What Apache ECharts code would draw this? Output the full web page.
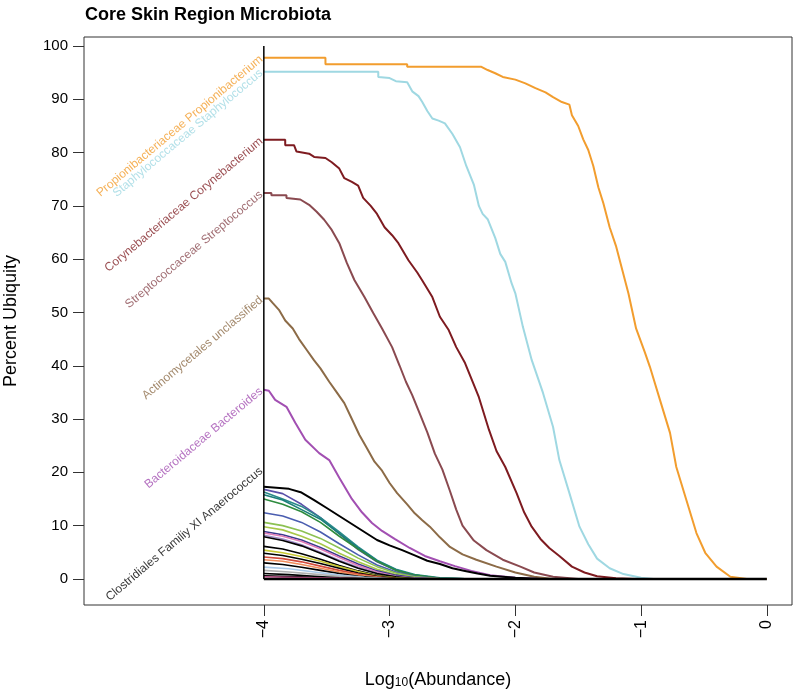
<!DOCTYPE html>
<html>
<head>
<meta charset="utf-8">
<script src="https://cdn.jsdelivr.net/npm/echarts@6/dist/echarts.min.js"></script>
<style>
  html, body { margin: 0; padding: 0; background: #fff; }
  #chart { width: 797px; height: 691px; }
</style>
</head>
<body>
<div id="chart"></div>
<script>
const FONT = '"Liberation Sans", Arial, Helvetica, sans-serif'

// tick positions
const xTicks = [-4, -3, -2, -1, 0]
const yTicks = [0, 10, 20, 30, 40, 50, 60, 70, 80, 90, 100]

// labelled taxa: [log10 abundance, percent ubiquity]
const propionibacterium = [[-4,97.8],[-3.51,97.8],[-3.51,96.6],[-2.86,96.6],[-2.86,96.1],[-2.27,96.1],[-2.22,95.5],[-2.16,94.9],[-2.10,94.2],[-2.00,93.7],[-1.92,93.0],[-1.84,92.1],[-1.76,91.3],[-1.70,90.4],[-1.63,89.5],[-1.57,89.0],[-1.55,87.0],[-1.50,85.0],[-1.46,82.5],[-1.42,80.5],[-1.38,77.5],[-1.34,73.5],[-1.30,70.5],[-1.25,66.0],[-1.20,62.5],[-1.15,58.0],[-1.10,53.5],[-1.04,47.0],[-0.97,42.5],[-0.93,39.8],[-0.85,33.6],[-0.77,27.4],[-0.72,21.0],[-0.64,14.8],[-0.56,8.6],[-0.49,4.9],[-0.40,2.3],[-0.29,0.4],[-0.16,0],[0,0]]
const staphylococcus = [[-4,95.2],[-3.09,95.2],[-3.09,94.2],[-3.00,94.0],[-2.95,93.4],[-2.86,93.2],[-2.82,91.5],[-2.77,90.6],[-2.74,89.5],[-2.70,87.8],[-2.66,86.4],[-2.61,86.0],[-2.56,85.5],[-2.50,83.5],[-2.44,81.0],[-2.39,77.5],[-2.33,74.0],[-2.29,70.0],[-2.26,68.5],[-2.22,67.5],[-2.16,64.0],[-2.12,61.0],[-2.08,59.5],[-2.03,55.5],[-2.00,53.6],[-1.94,47.3],[-1.87,41.1],[-1.78,34.9],[-1.70,28.5],[-1.65,22.3],[-1.57,16.1],[-1.49,9.8],[-1.42,6.5],[-1.35,3.8],[-1.25,2.0],[-1.14,0.9],[-1.00,0.2],[-0.90,0]]
const corynebacterium = [[-4,82.4],[-3.83,82.4],[-3.83,81.4],[-3.76,81.4],[-3.74,80.2],[-3.64,79.8],[-3.60,79.2],[-3.51,79.0],[-3.46,78.2],[-3.40,77.0],[-3.36,75.2],[-3.30,74.5],[-3.25,73.8],[-3.21,71.5],[-3.15,70.0],[-3.10,68.5],[-3.04,66.0],[-2.98,64.5],[-2.93,63.0],[-2.85,59.8],[-2.78,57.5],[-2.74,56.0],[-2.66,52.9],[-2.60,49.2],[-2.53,46.7],[-2.47,43.5],[-2.40,40.5],[-2.34,37.0],[-2.29,34.1],[-2.21,28.0],[-2.15,24.0],[-2.08,21.0],[-1.99,16.1],[-1.93,12.5],[-1.87,9.8],[-1.80,7.5],[-1.73,5.8],[-1.65,4.3],[-1.55,2.3],[-1.45,1.2],[-1.35,0.5],[-1.20,0.1],[-1.05,0]]
const streptococcus = [[-4,72.4],[-3.94,72.4],[-3.94,72.0],[-3.82,72.0],[-3.82,71.5],[-3.71,71.2],[-3.64,70.2],[-3.58,68.9],[-3.52,67.4],[-3.46,65.5],[-3.40,63.0],[-3.34,59.3],[-3.28,56.1],[-3.20,52.9],[-3.13,49.9],[-3.06,47.0],[-2.98,43.5],[-2.92,40.0],[-2.87,37.0],[-2.82,34.5],[-2.76,31.0],[-2.70,27.5],[-2.64,23.5],[-2.58,20.5],[-2.52,16.5],[-2.47,13.0],[-2.42,10.0],[-2.33,7.2],[-2.23,5.4],[-2.10,3.6],[-1.96,2.3],[-1.85,1.2],[-1.70,0.4],[-1.50,0]]
const actinomycetales = [[-4,52.6],[-3.96,52.6],[-3.93,51.8],[-3.88,50.5],[-3.83,48.5],[-3.77,47.0],[-3.72,45.0],[-3.66,43.0],[-3.60,41.0],[-3.55,39.5],[-3.48,37.0],[-3.42,35.0],[-3.36,33.0],[-3.30,30.0],[-3.24,27.0],[-3.18,24.5],[-3.12,22.0],[-3.06,20.3],[-3.00,18.0],[-2.94,16.1],[-2.86,14.0],[-2.80,12.3],[-2.74,11.0],[-2.68,9.8],[-2.60,7.8],[-2.52,6.0],[-2.42,4.6],[-2.31,3.6],[-2.15,2.3],[-2.00,1.2],[-1.85,0.4],[-1.70,0]]
const bacteroides = [[-4,35.5],[-3.96,35.3],[-3.91,33.6],[-3.82,32.3],[-3.75,29.3],[-3.67,26.1],[-3.56,23.6],[-3.48,22.3],[-3.40,19.0],[-3.30,15.0],[-3.22,12.5],[-3.14,10.5],[-3.06,9.0],[-2.96,7.5],[-2.84,5.8],[-2.72,4.3],[-2.60,3.3],[-2.48,2.4],[-2.35,1.5],[-2.20,0.7],[-2.00,0.2],[-1.80,0]]
const anaerococcus = [[-4,17.3],[-3.80,16.9],[-3.70,16.2],[-3.60,14.8],[-3.50,13.3],[-3.40,11.8],[-3.30,10.3],[-3.20,8.8],[-3.10,7.3],[-3.00,6.3],[-2.90,5.4],[-2.80,4.4],[-2.70,3.4],[-2.60,2.8],[-2.50,2.0],[-2.40,1.5],[-2.30,1.0],[-2.20,0.6],[-2.00,0.2],[-1.80,0]]

// unlabelled low-ubiquity taxa
const m01 = [[-4,16.8],[-3.85,16.0],[-3.7,14.0],[-3.55,11.5],[-3.4,8.5],[-3.25,5.5],[-3.1,3.2],[-2.95,1.6],[-2.8,0.6],[-2.6,0.1],[-2.4,0]]
const m02 = [[-4,16.3],[-3.85,15.0],[-3.7,13.6],[-3.55,11.5],[-3.4,8.8],[-3.25,6.0],[-3.1,3.5],[-2.95,1.8],[-2.8,0.8],[-2.6,0.2],[-2.4,0]]
const m03 = [[-4,15.8],[-3.85,14.8],[-3.7,13.0],[-3.55,11.2],[-3.4,8.5],[-3.25,5.8],[-3.1,3.4],[-2.95,1.7],[-2.8,0.7],[-2.6,0.1],[-2.4,0]]
const m04 = [[-4,15.0],[-3.85,14.0],[-3.7,12.6],[-3.55,10.6],[-3.4,8.0],[-3.25,5.6],[-3.1,3.3],[-2.95,1.6],[-2.8,0.7],[-2.6,0.1],[-2.4,0]]
const m05 = [[-4,12.4],[-3.85,11.8],[-3.7,10.6],[-3.55,8.8],[-3.4,6.6],[-3.25,4.5],[-3.1,2.6],[-2.95,1.3],[-2.8,0.5],[-2.6,0]]
const m06 = [[-4,10.6],[-3.85,10.0],[-3.7,9.0],[-3.55,7.6],[-3.4,5.8],[-3.25,3.9],[-3.1,2.3],[-2.95,1.1],[-2.8,0.4],[-2.6,0]]
const m07 = [[-4,9.8],[-3.85,9.2],[-3.7,8.0],[-3.55,6.6],[-3.4,4.8],[-3.25,3.2],[-3.1,1.8],[-2.95,0.8],[-2.8,0.3],[-2.6,0]]
const m08 = [[-4,8.9],[-3.85,8.3],[-3.7,7.3],[-3.55,5.9],[-3.4,4.3],[-3.25,2.8],[-3.1,1.5],[-2.95,0.7],[-2.8,0.2],[-2.6,0]]
const m09 = [[-4,8.6],[-3.85,8.0],[-3.7,7.0],[-3.55,5.6],[-3.4,4.0],[-3.25,2.5],[-3.1,1.3],[-2.95,0.5],[-2.8,0.1],[-2.6,0]]
const m10 = [[-4,8.2],[-3.85,7.5],[-3.7,6.4],[-3.55,5.0],[-3.4,3.5],[-3.25,2.2],[-3.1,1.1],[-2.95,0.4],[-2.8,0]]
const m11 = [[-4,7.9],[-3.85,7.2],[-3.7,6.2],[-3.55,4.8],[-3.4,3.3],[-3.25,2.0],[-3.1,1.0],[-2.95,0.4],[-2.8,0]]
const m12 = [[-4,6.1],[-3.85,5.6],[-3.7,4.7],[-3.55,3.7],[-3.4,2.5],[-3.25,1.5],[-3.1,0.7],[-2.95,0.2],[-2.8,0]]
const m13 = [[-4,5.4],[-3.85,4.9],[-3.7,4.2],[-3.55,3.3],[-3.4,2.3],[-3.25,1.4],[-3.1,0.6],[-2.95,0.2],[-2.8,0]]
const m14 = [[-4,4.8],[-3.85,4.4],[-3.7,3.7],[-3.55,2.9],[-3.4,2.0],[-3.25,1.1],[-3.1,0.5],[-2.95,0.1],[-2.8,0]]
const m15 = [[-4,4.1],[-3.85,3.8],[-3.7,3.2],[-3.55,2.4],[-3.4,1.6],[-3.25,0.9],[-3.1,0.4],[-2.95,0]]
const m16 = [[-4,3.6],[-3.85,3.3],[-3.7,2.7],[-3.55,2.0],[-3.4,1.3],[-3.25,0.7],[-3.1,0.3],[-2.95,0]]
const m17 = [[-4,3.0],[-3.85,2.7],[-3.7,2.2],[-3.55,1.6],[-3.4,1.0],[-3.25,0.5],[-3.1,0.2],[-2.95,0]]
const m18 = [[-4,2.2],[-3.8,1.9],[-3.6,1.3],[-3.4,0.7],[-3.2,0.3],[-3.0,0]]
const m19 = [[-4,1.6],[-3.8,1.3],[-3.6,0.9],[-3.4,0.5],[-3.2,0.2],[-3.0,0]]
const m20 = [[-4,1.0],[-3.8,0.8],[-3.6,0.5],[-3.4,0.2],[-3.2,0]]
const m21 = [[-4,0.6],[-3.7,0.4],[-3.4,0.1],[-3.2,0]]
const m22 = [[-4,0.4],[-3.6,0.2],[-3.2,0]]
const minorData = [m01, m02, m03, m04, m05, m06, m07, m08, m09, m10, m11, m12, m13, m14, m15, m16, m17, m18, m19, m20, m21, m22]
const minorColors = ['#5a4fa8', '#2a8a8a', '#1b7f7a', '#2e8b3e', '#4a5db0', '#8cc152', '#a8c84a', '#3b3b8f', '#e07cb8', '#a08cc8', '#000000', '#000000', '#c8c832', '#000000', '#d24b3c', '#f08c5a', '#000000', '#a8c8e8', '#b0b0b0', '#000000', '#000000', '#c0508a']

// zero baseline and the start line at -4
const zeroLine = [[-4, 0], [0, 0]]
const startLine = [[-4, 0], [-4, 100]]

const mainData = [propionibacterium, staphylococcus, corynebacterium, streptococcus, actinomycetales, bacteroides, anaerococcus]
const mainColors = ['#f29d2e', '#9fd8e2', '#7e1b20', '#8a4a50', '#8c6b47', '#a24fb2', '#000000']

const labelNames = [
  'Propionibacteriaceae Propionibacterium',
  'Staphylococcaceae Staphylococcus',
  'Corynebacteriaceae Corynebacterium',
  'Streptococcaceae Streptococcus',
  'Actinomycetales unclassified',
  'Bacteroidaceae Bacteroides',
  'Clostridiales Familiy XI Anaerococcus',
]
const labelValues = [97.8, 95.2, 82.4, 72.4, 52.6, 35.5, 20.5]

const chart = echarts.init(document.getElementById('chart'))

const series = []
minorData.forEach((d, i) => {
  series.push({
    type: 'line', data: d, symbol: 'none', silent: true,
    lineStyle: { width: 1.6, color: minorColors[i] }, z: 2,
  })
})
mainData.forEach((d, i) => {
  series.push({
    type: 'line', data: d, symbol: 'none', silent: true,
    lineStyle: { width: 2, color: mainColors[i] }, z: 3,
  })
})
series.push({ type: 'line', data: zeroLine, symbol: 'none', silent: true, lineStyle: { width: 2.5, color: '#000' }, z: 4 })
series.push({ type: 'line', data: startLine, symbol: 'none', silent: true, lineStyle: { width: 1.5, color: '#000' }, z: 4 })
series.push({
  type: 'scatter',
  symbolSize: 0,
  silent: true,
  z: 5,
  data: labelNames.map((n, i) => ({
    value: [-4.02, labelValues[i]],
    label: { color: mainColors[i] },
  })),
  label: {
    show: true,
    position: 'left',
    distance: 0,
    rotate: 40,
    fontSize: 12,
    fontFamily: FONT,
    formatter: (p) => labelNames[p.dataIndex],
  },
})

chart.setOption({
  animation: false,
  backgroundColor: '#fff',
  title: {
    text: 'Core Skin Region Microbiota',
    left: 80,
    top: 1,
    textStyle: { fontSize: 18, fontWeight: 'bold', color: '#000', fontFamily: FONT },
  },
  grid: {
    left: 84, right: 5, top: 37, bottom: 86,
    outerBoundsMode: 'none',
    show: true, borderColor: '#333', borderWidth: 1,
  },
  xAxis: {
    type: 'value',
    min: -5.43,
    max: 0.2,
    axisLine: { show: false, onZero: false },
    splitLine: { show: false },
    axisTick: { show: true, length: 11, customValues: xTicks, lineStyle: { color: '#333' } },
    axisLabel: {
      customValues: xTicks,
      rotate: 90,
      margin: 15,
      fontSize: 16,
      color: '#000',
      fontFamily: FONT,
      formatter: (v) => (v < 0 ? '\u2212' + Math.abs(v) : String(v)),
    },
    name: '{a|Log}{s|10}{a|(Abundance)}',
    nameLocation: 'middle',
    nameGap: 62,
    nameTextStyle: {
      fontFamily: FONT,
      color: '#000',
      rich: {
        a: { fontSize: 18, lineHeight: 22, verticalAlign: 'bottom', fontFamily: FONT, color: '#000' },
        s: { fontSize: 12, lineHeight: 12, verticalAlign: 'bottom', fontFamily: FONT, color: '#000' },
      },
    },
  },
  yAxis: {
    type: 'value',
    min: -4.9,
    max: 101.7,
    axisLine: { show: false, onZero: false },
    splitLine: { show: false },
    axisTick: { show: true, length: 11, customValues: yTicks, lineStyle: { color: '#333' } },
    axisLabel: { customValues: yTicks, margin: 16, fontSize: 15, color: '#000', fontFamily: FONT },
    name: 'Percent Ubiquity',
    nameLocation: 'middle',
    nameGap: 64,
    nameTextStyle: { fontSize: 18, color: '#000', fontFamily: FONT },
  },
  series,
})
</script>
</body>
</html>
